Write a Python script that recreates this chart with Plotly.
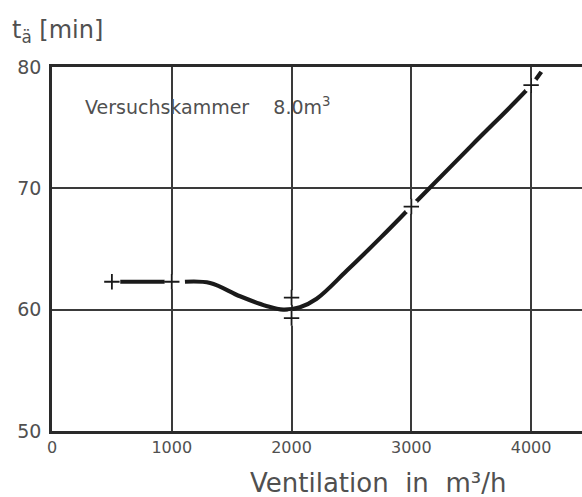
import plotly.graph_objects as go

# Measured points (+ markers)
meas_x = [500, 1000, 2000, 2000, 3000, 4000]
meas_y = [62.3, 62.3, 61.0, 59.3, 68.5, 78.5]

# Fitted curve through the measurements (None = break in the line)
curve_x = [570, 950, None, 1110, 1320, 1570, 1790, 1930, 2070, 2210, 2460, 2750, 3000,
           3500, 4000, 4085]
curve_y = [62.3, 62.3, None, 62.3, 62.2, 61.1, 60.3, 60.0, 60.2, 60.9, 63.2, 66.0, 68.5,
           73.5, 78.5, 79.6]

x_ticks = [0, 1000, 2000, 3000, 4000]
y_ticks = [50, 60, 70, 80]

ink = "#1a1a1a"
grid = "#3a3a3a"
txt = "#505050"
font = "DejaVu Sans"

fig = go.Figure()
fig.add_trace(go.Scatter(x=curve_x, y=curve_y, mode="lines", connectgaps=False,
                         line=dict(color=ink, width=4.2, shape="spline", smoothing=1.0),
                         hoverinfo="skip"))
# white halo around each measured point, breaking the curve
fig.add_trace(go.Scatter(x=meas_x, y=meas_y, mode="markers",
                         marker=dict(symbol="circle", size=15, color="white",
                                     line=dict(width=0)), hoverinfo="skip"))
fig.add_trace(go.Scatter(x=meas_x, y=meas_y, mode="markers",
                         marker=dict(symbol="cross-thin", size=11,
                                     line=dict(color=ink, width=1.8))))

fig.add_annotation(x=0.0, xref="paper", y=76.8, yref="y",
                   text="Versuchskammer&nbsp;&nbsp;&nbsp;&nbsp;8.0m<sup>3</sup>",
                   showarrow=False, xanchor="left", yanchor="middle", xshift=31,
                   font=dict(family=font, size=19, color=txt))
fig.add_annotation(x=0, xref="paper", y=1, yref="paper", yshift=36, xshift=-42,
                   text="t<sub>ä</sub> [min]", showarrow=False,
                   xanchor="left", yanchor="middle",
                   font=dict(family=font, size=24, color=txt))
fig.add_annotation(x=0.5, xref="paper", y=0, yref="paper", yshift=-52, xshift=61,
                   text="Ventilation&nbsp;&nbsp;in&nbsp;&nbsp;m³/h", showarrow=False,
                   xanchor="center", yanchor="middle",
                   font=dict(family=font, size=26, color=txt))

fig.update_xaxes(range=[0, 4425], tickvals=x_ticks, ticktext=[str(v) for v in x_ticks],
                 showgrid=True, gridcolor=grid, gridwidth=1.6,
                 showline=True, linecolor="#2a2a2a", linewidth=2.6, mirror=True,
                 zeroline=False, ticks="", tickfont=dict(family=font, size=16, color=txt))
fig.update_yaxes(range=[50, 80], tickvals=y_ticks, ticktext=[str(v) for v in y_ticks],
                 showgrid=True, gridcolor=grid, gridwidth=1.6,
                 showline=True, linecolor="#2a2a2a", linewidth=2.6,
                 zeroline=False, ticks="", ticklabelstandoff=4,
                 tickfont=dict(family=font, size=19, color=txt))

fig.update_layout(width=582, height=497, showlegend=False,
                  margin=dict(l=52, r=0, t=67, b=66),
                  plot_bgcolor="white", paper_bgcolor="white")

fig.write_html("out.html")
